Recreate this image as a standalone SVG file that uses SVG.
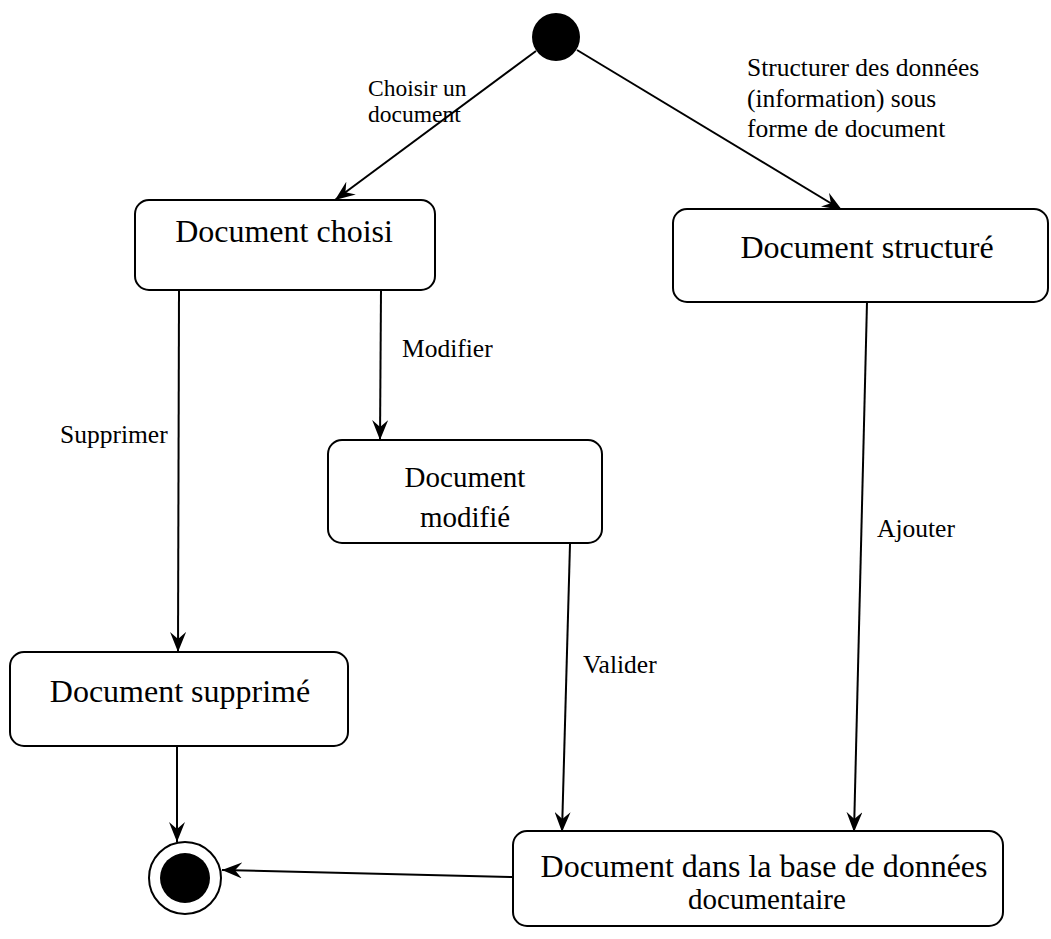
<svg xmlns="http://www.w3.org/2000/svg" width="1051" height="939" viewBox="0 0 1051 939">
  <style>
    .state { fill: #fff; stroke: #000; stroke-width: 2; }
    .big { font-family: "Liberation Serif", "Times New Roman", serif; font-size: 32px; fill: #000; text-anchor: middle; }
    .mid { font-size: 29px; }
    .lbl { font-family: "Liberation Serif", "Times New Roman", serif; font-size: 25.5px; fill: #000; }
    .sm { font-size: 23.5px; }
    .edge { fill: none; stroke: #000; stroke-width: 2; marker-end: url(#arrow); }
  </style>
  <defs>
    <marker id="arrow" viewBox="0 0 20 16" refX="20" refY="8" markerWidth="20" markerHeight="16" markerUnits="userSpaceOnUse" orient="auto">
      <path d="M0,0 L20,8 L0,16 L7,8 Z" fill="#000"/>
    </marker>
  </defs>
  <rect width="1051" height="939" fill="#fff"/>

  <!-- transitions -->
  <g id="connectors">
    <line class="edge" x1="536" y1="51" x2="335" y2="200"/>
    <line class="edge" x1="577" y1="50" x2="842" y2="210"/>
    <line class="edge" x1="179" y1="290" x2="178" y2="652"/>
    <line class="edge" x1="381" y1="290" x2="380" y2="440"/>
    <line class="edge" x1="570" y1="544" x2="562" y2="832"/>
    <line class="edge" x1="867" y1="302" x2="854" y2="832"/>
    <line class="edge" x1="177" y1="747" x2="177" y2="842"/>
    <line class="edge" x1="513" y1="877" x2="222" y2="870"/>

    <text class="lbl sm" x="368" y="96">Choisir un</text>
    <text class="lbl sm" x="368" y="122">document</text>
    <text class="lbl" x="747" y="76">Structurer des données</text>
    <text class="lbl" x="747" y="107">(information) sous</text>
    <text class="lbl" x="747" y="137">forme de document</text>
    <text class="lbl" x="402" y="357">Modifier</text>
    <text class="lbl" x="60" y="443">Supprimer</text>
    <text class="lbl" x="583" y="673">Valider</text>
    <text class="lbl" x="877" y="537">Ajouter</text>
  </g>

  <g id="initial">
    <circle cx="556" cy="37" r="24" fill="#000"/>
  </g>

  <g id="doc-choisi">
    <rect class="state" x="135" y="200" width="300" height="90" rx="14"/>
    <text class="big" x="284" y="242">Document choisi</text>
  </g>

  <g id="doc-structure">
    <rect class="state" x="673" y="209" width="375" height="93" rx="14"/>
    <text class="big" x="867" y="258">Document structuré</text>
  </g>

  <g id="doc-modifie">
    <rect class="state" x="328" y="440" width="274" height="103" rx="14"/>
    <text class="big mid" x="465" y="487">Document</text>
    <text class="big mid" x="465" y="527">modifié</text>
  </g>

  <g id="doc-supprime">
    <rect class="state" x="10" y="652" width="338" height="94" rx="14"/>
    <text class="big" x="180" y="702">Document supprimé</text>
  </g>

  <g id="doc-base">
    <rect class="state" x="513" y="831" width="490" height="95" rx="14"/>
    <text class="big" x="764" y="877">Document dans la base de données</text>
    <text class="big mid" x="767" y="909">documentaire</text>
  </g>

  <g id="final">
    <circle cx="185" cy="878" r="36" fill="#fff" stroke="#000" stroke-width="2"/>
    <circle cx="185" cy="878" r="25" fill="#000"/>
  </g>
</svg>
